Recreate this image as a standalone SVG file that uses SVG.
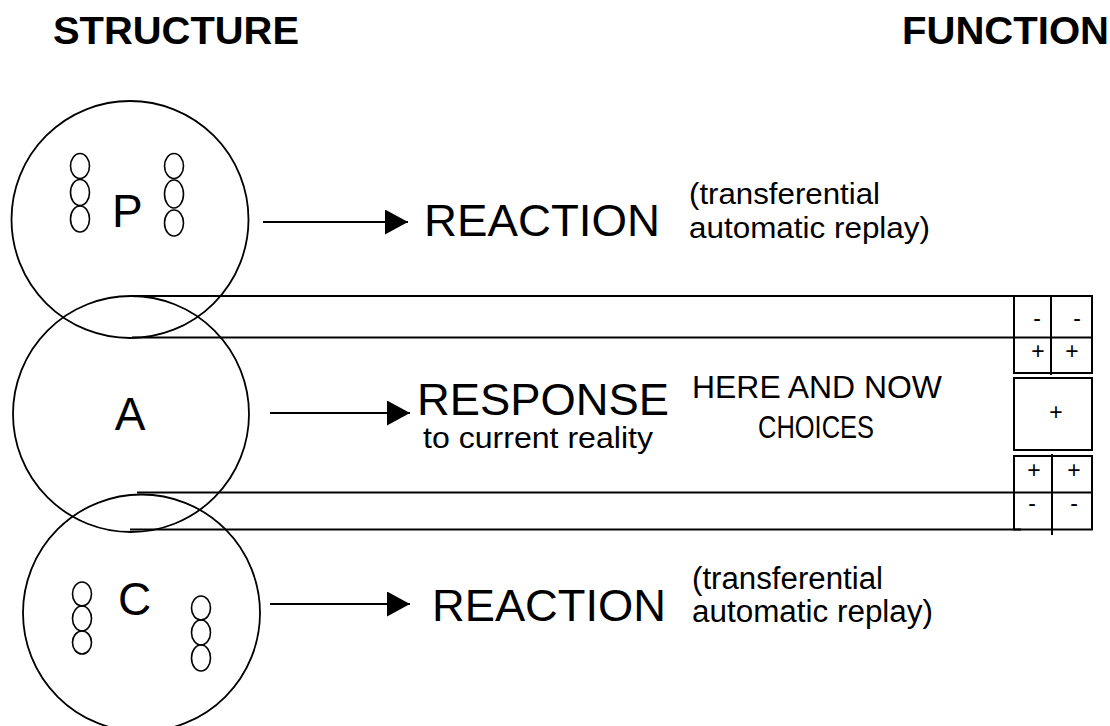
<svg xmlns="http://www.w3.org/2000/svg" width="1110" height="726" viewBox="0 0 1110 726">
<defs>
<style>
text{font-family:"Liberation Sans",Arial,sans-serif;fill:#000}
.h{font-size:38px;font-weight:bold}
.big{font-size:45px}
.lbl{font-size:46px}
.sm{font-size:29px}
.nw{font-size:31px}
.sg{font-size:23px;text-anchor:middle}
.c{fill:none;stroke:#000;stroke-width:1.8}
.ov{fill:none;stroke:#000;stroke-width:1.6}
.ln{fill:none;stroke:#000;stroke-width:2}
</style>
<marker id="ah" markerUnits="userSpaceOnUse" markerWidth="24" markerHeight="26" refX="23" refY="12.5" orient="auto">
<path d="M0,0 L23,12.5 L0,25 Z" fill="#000"/>
</marker>
</defs>
<rect width="1110" height="726" fill="#fff"/>
<g id="headings">
<text class="h" x="53" y="44" textLength="246" lengthAdjust="spacingAndGlyphs">STRUCTURE</text>
<text class="h" x="902" y="44" textLength="207" lengthAdjust="spacingAndGlyphs">FUNCTION</text>
</g>
<g id="node-P">
<circle class="c" cx="130" cy="219.5" r="118.5"/>
<ellipse class="ov" cx="80" cy="166" rx="9.5" ry="12.5"/>
<ellipse class="ov" cx="80" cy="192.5" rx="9.5" ry="13"/>
<ellipse class="ov" cx="80" cy="219" rx="9.5" ry="13"/>
<ellipse class="ov" cx="174" cy="166" rx="9.5" ry="12.5"/>
<ellipse class="ov" cx="174" cy="194" rx="9.5" ry="14"/>
<ellipse class="ov" cx="174" cy="223" rx="9.5" ry="13"/>
<text class="lbl" x="112" y="227">P</text>
</g>
<g id="node-A">
<circle class="c" cx="131" cy="414" r="118"/>
<text class="lbl" x="130" y="430" text-anchor="middle">A</text>
</g>
<g id="node-C">
<circle class="c" cx="141.5" cy="613" r="118.5"/>
<ellipse class="ov" cx="82" cy="594" rx="9.5" ry="12"/>
<ellipse class="ov" cx="82" cy="618.5" rx="9.5" ry="12.5"/>
<ellipse class="ov" cx="82" cy="642.5" rx="9.5" ry="11.5"/>
<ellipse class="ov" cx="201" cy="608" rx="9.5" ry="12"/>
<ellipse class="ov" cx="201" cy="632.5" rx="9.5" ry="12.5"/>
<ellipse class="ov" cx="201" cy="658" rx="9.5" ry="13"/>
<text class="lbl" x="118" y="615">C</text>
</g>
<g id="connectors">
<line class="ln" x1="263" y1="222" x2="408" y2="222" marker-end="url(#ah)"/>
<line class="ln" x1="270" y1="413" x2="410" y2="413" marker-end="url(#ah)"/>
<line class="ln" x1="270" y1="604" x2="410" y2="604" marker-end="url(#ah)"/>
<line class="ln" x1="130" y1="296" x2="1021" y2="296"/>
<line class="ln" x1="132" y1="337.5" x2="1092" y2="337.5"/>
<line class="ln" x1="137" y1="492.5" x2="1092" y2="492.5"/>
<line class="ln" x1="130" y1="529.5" x2="1021" y2="529.5"/>
</g>
<g id="node-reaction-top">
<text class="big" x="424" y="236" textLength="236" lengthAdjust="spacingAndGlyphs">REACTION</text>
<text class="sm" x="689" y="204" textLength="191" lengthAdjust="spacingAndGlyphs">(transferential</text>
<text class="sm" x="689" y="238" textLength="241" lengthAdjust="spacingAndGlyphs">automatic replay)</text>
</g>
<g id="node-response">
<text class="big" x="417" y="415" textLength="252" lengthAdjust="spacingAndGlyphs">RESPONSE</text>
<text class="sm" x="423" y="448" style="font-size:29px" textLength="230" lengthAdjust="spacingAndGlyphs">to current reality</text>
<text class="nw" x="692" y="398" textLength="250" lengthAdjust="spacingAndGlyphs">HERE AND NOW</text>
<text class="nw" x="758" y="438" textLength="116" lengthAdjust="spacingAndGlyphs">CHOICES</text>
</g>
<g id="node-reaction-bottom">
<text class="big" x="432" y="621" textLength="234" lengthAdjust="spacingAndGlyphs">REACTION</text>
<text class="nw" x="692" y="589" textLength="191" lengthAdjust="spacingAndGlyphs">(transferential</text>
<text class="nw" x="692" y="622" textLength="241" lengthAdjust="spacingAndGlyphs">automatic replay)</text>
</g>
<g id="node-box-top">
<rect class="ln" x="1014" y="296" width="78" height="77"/>
<line class="ln" x1="1051" y1="296" x2="1051" y2="375"/>
<text class="sg" x="1037" y="325.5">-</text>
<text class="sg" x="1077" y="325.5">-</text>
<text class="sg" x="1038" y="358.5">+</text>
<text class="sg" x="1072" y="358.5">+</text>
</g>
<g id="node-box-middle">
<rect class="ln" x="1014" y="378" width="78" height="72"/>
<text class="sg" x="1056" y="419.5">+</text>
</g>
<g id="node-box-bottom">
<rect class="ln" x="1014" y="456" width="78" height="73.5"/>
<line class="ln" x1="1052" y1="454" x2="1052" y2="535"/>
<text class="sg" x="1034" y="477.5">+</text>
<text class="sg" x="1074" y="477.5">+</text>
<text class="sg" x="1032" y="510.5">-</text>
<text class="sg" x="1074" y="510.5">-</text>
</g>
</svg>
